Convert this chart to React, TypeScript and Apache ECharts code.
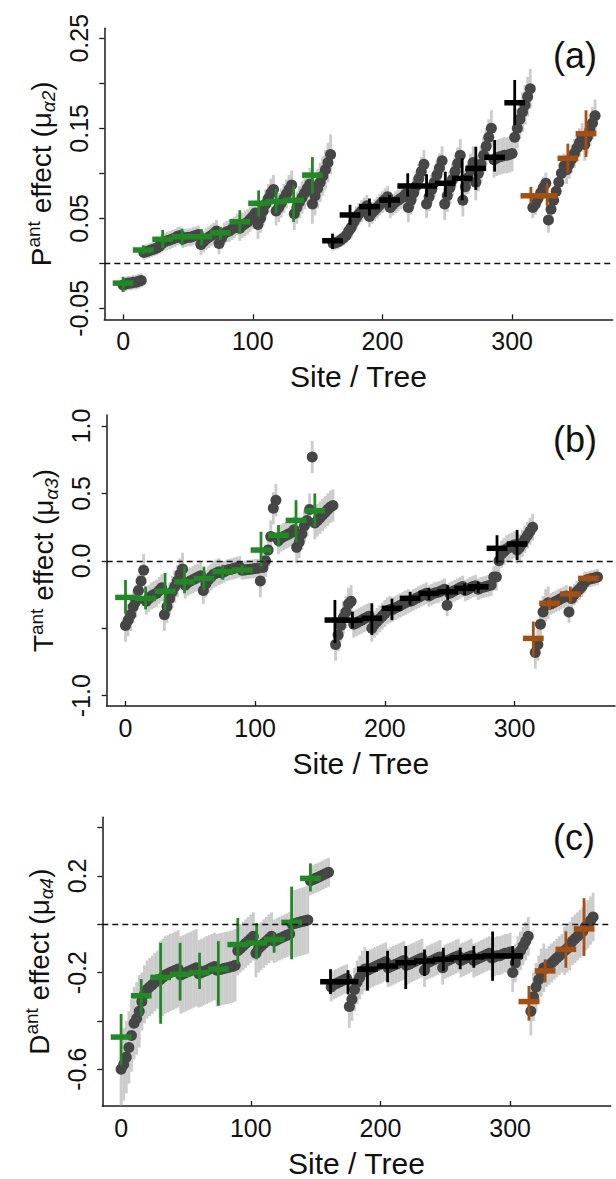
import React, { useEffect, useRef } from "react";
import * as echarts from "echarts";

// ---- shared site layout (x of each site cross, first tree index of each site) ----
const siteX = [0, 15.5, 30.5, 45.5, 60.5, 75, 90, 104.5, 118, 131.5, 146, 161.5, 175, 190, 205.5, 219.5, 234, 248.5, 261.5, 272, 286.5, 302, 314.5, 327, 343, 357];
const siteStart = [0, 16, 30, 46, 60, 74, 90, 104, 118, 132, 146, 162, 176, 190, 206, 220, 234, 248, 262, 272, 286, 302, 316, 328, 342, 356];
const siteGroup = ["g", "g", "g", "g", "g", "g", "g", "g", "g", "g", "g", "k", "k", "k", "k", "k", "k", "k", "k", "k", "k", "k", "b", "b", "b", "b"];
const groupColor: Record<string, string> = { g: "#1f8a22", k: "#000000", b: "#a5500f" };

// ---- panel (a): P^ant effect ----
const treesA = [
  [-0.024, -0.023, -0.022, -0.022, -0.021, -0.021, -0.020, -0.019],
  [0.012, 0.013, 0.014, 0.015, 0.016, 0.017, 0.019],
  [0.022, 0.024, 0.025, 0.026, 0.027, 0.028, 0.030, 0.031],
  [0.027, 0.028, 0.029, 0.029, 0.030, 0.031, 0.032],
  [0.021, 0.024, 0.027, 0.029, 0.031, 0.033, 0.036],
  [0.022, 0.028, 0.033, 0.035, 0.036, 0.038, 0.040, 0.043],
  [0.039, 0.042, 0.044, 0.046, 0.049, 0.052, 0.056],
  [0.043, 0.050, 0.058, 0.066, 0.072, 0.078, 0.082],
  [0.058, 0.062, 0.067, 0.072, 0.077, 0.082, 0.087],
  [0.055, 0.062, 0.068, 0.073, 0.078, 0.083, 0.088],
  [0.066, 0.075, 0.083, 0.090, 0.097, 0.104, 0.112, 0.121],
  [0.022, 0.023, 0.024, 0.026, 0.028, 0.031, 0.036],
  [0.040, 0.046, 0.051, 0.055, 0.058, 0.061, 0.064],
  [0.052, 0.056, 0.059, 0.062, 0.065, 0.068, 0.071, 0.074],
  [0.062, 0.065, 0.068, 0.070, 0.072, 0.074, 0.077],
  [0.062, 0.070, 0.078, 0.086, 0.094, 0.102, 0.110],
  [0.066, 0.074, 0.082, 0.090, 0.098, 0.106, 0.114],
  [0.066, 0.075, 0.084, 0.093, 0.102, 0.111, 0.120],
  [0.070, 0.085, 0.095, 0.104, 0.112],
  [0.090, 0.100, 0.110, 0.120, 0.130, 0.140, 0.150],
  [0.115, 0.117, 0.118, 0.119, 0.120, 0.120, 0.121, 0.122],
  [0.140, 0.150, 0.160, 0.168, 0.176, 0.185, 0.194],
  [0.062, 0.066, 0.072, 0.078, 0.084, 0.089],
  [0.048, 0.060, 0.070, 0.080, 0.090, 0.100, 0.108],
  [0.104, 0.110, 0.116, 0.122, 0.128, 0.134, 0.140],
  [0.132, 0.140, 0.148, 0.156, 0.164],
];
const hwA = [0.008, 0.008, 0.01, 0.01, 0.012, 0.012, 0.014, 0.016, 0.016, 0.018, 0.022, 0.008, 0.012, 0.012, 0.012, 0.016, 0.016, 0.018, 0.018, 0.02, 0.02, 0.022, 0.012, 0.014, 0.016, 0.018];
const meanA = [-0.022, 0.0148, 0.0267, 0.0296, 0.0296, 0.034, 0.0462, 0.0667, 0.0685, 0.07, 0.098, 0.0251, 0.0537, 0.063, 0.0703, 0.0859, 0.0859, 0.0889, 0.0944, 0.1055, 0.1178, 0.1784, 0.075, 0.075, 0.1167, 0.144];
const loA = [-0.032, 0.01, 0.017, 0.02, 0.02, 0.026, 0.033, 0.0515, 0.0553, 0.046, 0.0774, 0.016, 0.0426, 0.053, 0.062, 0.074, 0.074, 0.074, 0.07, 0.0815, 0.1019, 0.1537, 0.0667, 0.064, 0.1, 0.118];
const hiA = [-0.015, 0.02, 0.037, 0.0386, 0.038, 0.0405, 0.059, 0.081, 0.083, 0.0867, 0.118, 0.033, 0.065, 0.072, 0.076, 0.1, 0.099, 0.1018, 0.1167, 0.1296, 0.137, 0.2037, 0.085, 0.089, 0.133, 0.17];

// ---- panel (b): T^ant effect ----
const treesB = [
  [-0.48, -0.44, -0.40, -0.34, -0.30, -0.22, -0.15, -0.07],
  [-0.30, -0.28, -0.26, -0.25, -0.24, -0.22, -0.20],
  [-0.40, -0.34, -0.28, -0.23, -0.19, -0.15, -0.10, -0.06],
  [-0.18, -0.16, -0.15, -0.14, -0.13, -0.12, -0.11],
  [-0.22, -0.17, -0.14, -0.12, -0.10, -0.09, -0.08],
  [-0.09, -0.08, -0.07, -0.065, -0.06, -0.055, -0.05, -0.045],
  [-0.07, -0.068, -0.065, -0.062, -0.06, -0.057, -0.055],
  [-0.15, -0.05, 0.0, 0.08, 0.18, 0.39, 0.45],
  [0.15, 0.17, 0.18, 0.19, 0.20, 0.21, 0.23],
  [0.10, 0.14, 0.20, 0.26, 0.30, 0.38, 0.77],
  [0.28, 0.30, 0.32, 0.34, 0.36, 0.38, 0.40, 0.41],
  [-0.62, -0.55, -0.48, -0.42, -0.38, -0.32, -0.30],
  [-0.47, -0.46, -0.45, -0.44, -0.43, -0.42, -0.41],
  [-0.50, -0.47, -0.45, -0.43, -0.41, -0.39, -0.37, -0.36],
  [-0.36, -0.35, -0.34, -0.33, -0.32, -0.31, -0.30],
  [-0.30, -0.29, -0.28, -0.27, -0.26, -0.25, -0.24],
  [-0.26, -0.25, -0.24, -0.235, -0.23, -0.22, -0.21],
  [-0.33, -0.24, -0.23, -0.22, -0.21, -0.20, -0.19],
  [-0.22, -0.21, -0.20, -0.19, -0.185],
  [-0.21, -0.20, -0.195, -0.19, -0.185, -0.18, -0.12],
  [-0.12, 0.0, 0.05, 0.07, 0.09, 0.10, 0.11, 0.12],
  [0.08, 0.10, 0.13, 0.16, 0.19, 0.22, 0.25],
  [-0.68, -0.62, -0.47, -0.38, -0.33, -0.31],
  [-0.32, -0.31, -0.30, -0.29, -0.28, -0.27, -0.26],
  [-0.38, -0.28, -0.25, -0.23, -0.21, -0.19, -0.16],
  [-0.14, -0.135, -0.13, -0.125, -0.12],
];
const hwB = [0.12, 0.1, 0.12, 0.1, 0.1, 0.08, 0.07, 0.12, 0.1, 0.12, 0.12, 0.12, 0.1, 0.1, 0.09, 0.08, 0.08, 0.08, 0.08, 0.08, 0.1, 0.1, 0.12, 0.08, 0.08, 0.06];
const meanB = [-0.271, -0.279, -0.225, -0.156, -0.131, -0.08, -0.068, 0.08, 0.19, 0.3, 0.372, -0.439, -0.44, -0.426, -0.352, -0.278, -0.241, -0.229, -0.204, -0.192, 0.093, 0.125, -0.575, -0.315, -0.246, -0.13];
const loB = [-0.389, -0.36, -0.366, -0.24, -0.216, -0.14, -0.1, -0.043, 0.105, 0.14, 0.25, -0.61, -0.5, -0.55, -0.44, -0.33, -0.29, -0.29, -0.253, -0.24, -0.019, 0.006, -0.71, -0.365, -0.315, -0.155];
const hiB = [-0.142, -0.19, -0.09, -0.04, -0.043, -0.03, -0.03, 0.216, 0.266, 0.45, 0.5, -0.29, -0.377, -0.315, -0.28, -0.23, -0.2, -0.18, -0.167, -0.155, 0.19, 0.23, -0.45, -0.28, -0.19, -0.105];

// ---- panel (c): D^ant effect ----
const treesC = [
  [-0.60, -0.58, -0.55, -0.51, -0.46, -0.41, -0.39, -0.36],
  [-0.32, -0.29, -0.27, -0.26, -0.25, -0.24, -0.23],
  [-0.23, -0.22, -0.21, -0.205, -0.20, -0.195, -0.19, -0.185],
  [-0.21, -0.205, -0.20, -0.195, -0.19, -0.185, -0.18],
  [-0.205, -0.20, -0.195, -0.19, -0.185, -0.18, -0.175],
  [-0.19, -0.187, -0.185, -0.182, -0.18, -0.177, -0.175, -0.17],
  [-0.11, -0.10, -0.09, -0.08, -0.07, -0.06, -0.05],
  [-0.12, -0.10, -0.09, -0.08, -0.07, -0.06, -0.05],
  [-0.07, -0.065, -0.06, -0.055, -0.05, -0.045, -0.04],
  [0.0, 0.003, 0.006, 0.009, 0.012, 0.015, 0.018],
  [0.18, 0.185, 0.19, 0.195, 0.20, 0.205, 0.21, 0.215],
  [-0.26, -0.25, -0.245, -0.24, -0.235, -0.23, -0.225],
  [-0.34, -0.31, -0.27, -0.24, -0.22, -0.20, -0.185],
  [-0.19, -0.185, -0.18, -0.175, -0.17, -0.165, -0.16, -0.155],
  [-0.18, -0.175, -0.17, -0.165, -0.16, -0.155, -0.15],
  [-0.17, -0.165, -0.16, -0.155, -0.15, -0.145, -0.14],
  [-0.19, -0.16, -0.155, -0.15, -0.145, -0.14, -0.135],
  [-0.18, -0.155, -0.15, -0.145, -0.14, -0.135, -0.13],
  [-0.15, -0.145, -0.14, -0.135, -0.13],
  [-0.15, -0.145, -0.14, -0.135, -0.13, -0.125, -0.12],
  [-0.14, -0.135, -0.13, -0.13, -0.125, -0.12, -0.12, -0.115],
  [-0.20, -0.16, -0.13, -0.11, -0.09, -0.07, -0.05],
  [-0.36, -0.30, -0.26, -0.23, -0.20, -0.18],
  [-0.18, -0.17, -0.16, -0.15, -0.14, -0.13, -0.12],
  [-0.11, -0.10, -0.09, -0.07, -0.06, -0.05, -0.04],
  [-0.03, -0.01, 0.0, 0.015, 0.03],
];
const hwC = [0.15, 0.12, 0.16, 0.16, 0.14, 0.15, 0.1, 0.1, 0.09, 0.14, 0.06, 0.06, 0.09, 0.08, 0.08, 0.08, 0.07, 0.07, 0.07, 0.07, 0.08, 0.08, 0.1, 0.08, 0.1, 0.1];
const meanC = [-0.467, -0.296, -0.22, -0.207, -0.2, -0.186, -0.084, -0.077, -0.063, 0.008, 0.19, -0.238, -0.238, -0.186, -0.173, -0.159, -0.152, -0.145, -0.138, -0.135, -0.131, -0.131, -0.32, -0.193, -0.104, -0.019];
const loC = [-0.584, -0.378, -0.412, -0.316, -0.268, -0.337, -0.166, -0.145, -0.118, -0.145, 0.136, -0.289, -0.29, -0.275, -0.24, -0.268, -0.214, -0.193, -0.186, -0.18, -0.234, -0.17, -0.399, -0.241, -0.18, -0.131];
const hiC = [-0.371, -0.227, -0.077, -0.077, -0.118, -0.07, 0.026, 0.005, -0.036, 0.156, 0.252, -0.186, -0.19, -0.111, -0.11, -0.09, -0.104, -0.097, -0.097, -0.09, -0.03, -0.09, -0.255, -0.145, -0.029, 0.108];

// ---- axes ----
const xTicks = [0, 100, 200, 300];
const yTicksA = [-0.05, 0, 0.05, 0.1, 0.15, 0.2, 0.25];
const yLabelsA = [-0.05, 0.05, 0.15, 0.25];
const yTicksB = [-1, -0.5, 0, 0.5, 1];
const yLabelsB = [-1, 0, 0.5, 1];
const yTicksC = [-0.6, -0.4, -0.2, 0, 0.2, 0.4];
const yLabelsC = [-0.6, -0.2, 0.2];
const panelLetters = ["(a)", "(b)", "(c)"];
const titleLetters = ["P", "T", "D"];
const titleSubs = ["α2", "α3", "α4"];

const FONT = "'Liberation Sans', Arial, Helvetica, sans-serif";
const AXIS_COLOR = "#1a1a1a";

const panels = [
  { trees: treesA, hw: hwA, mean: meanA, lo: loA, hi: hiA, min: -0.0622, max: 0.2611, ticks: yTicksA, labels: yLabelsA, dec: 2, grid: { left: 104.3, top: 28.3, width: 508.3, height: 291 }, letterY: 57 },
  { trees: treesB, hw: hwB, mean: meanB, lo: loB, hi: hiB, min: -1.0764, max: 1.0816, ticks: yTicksB, labels: yLabelsB, dec: 1, grid: { left: 106.7, top: 415, width: 508.3, height: 291 }, letterY: 441 },
  { trees: treesC, hw: hwC, mean: meanC, lo: loC, hi: hiC, min: -0.7523, max: 0.4428, ticks: yTicksC, labels: yLabelsC, dec: 1, grid: { left: 102.3, top: 817.3, width: 508.3, height: 290.4 }, letterY: 839 },
];

function buildOption() {
  const grid: any[] = [];
  const xAxis: any[] = [];
  const yAxis: any[] = [];
  const series: any[] = [];
  const graphic: any[] = [];

  panels.forEach((p, idx) => {
    grid.push({ ...p.grid, containLabel: false });
    xAxis.push({
      type: "value",
      gridIndex: idx,
      min: -14.5,
      max: 377.5,
      axisLine: { show: true, onZero: false, lineStyle: { color: AXIS_COLOR, width: 1.5 } },
      axisTick: { show: true, inside: true, length: 5, customValues: xTicks, lineStyle: { color: AXIS_COLOR, width: 1.3 } },
      axisLabel: { show: true, customValues: xTicks, fontSize: 25, color: "#111", margin: 9, fontFamily: FONT },
      splitLine: { show: false },
      name: "Site / Tree",
      nameLocation: "middle",
      nameGap: 42,
      nameTextStyle: { fontSize: 30, color: "#111", fontFamily: FONT },
    });
    const dec = p.dec;
    yAxis.push({
      type: "value",
      gridIndex: idx,
      min: p.min,
      max: p.max,
      axisLine: { show: true, onZero: false, lineStyle: { color: AXIS_COLOR, width: 1.5 } },
      axisTick: { show: true, inside: false, length: 5, customValues: p.ticks, lineStyle: { color: AXIS_COLOR, width: 1.3 } },
      axisLabel: {
        show: true,
        customValues: p.labels,
        rotate: 90,
        fontSize: 25,
        color: "#111",
        margin: 13,
        fontFamily: FONT,
        formatter: (v: number) => v.toFixed(dec),
      },
      splitLine: { show: false },
      name: `{p|${titleLetters[idx]}}{sup|ant}{m| effect (μ}{sub|${titleSubs[idx]}}{m|)}`,
      nameLocation: "middle",
      nameRotate: 90,
      nameGap: 46,
      nameTextStyle: {
        fontFamily: FONT,
        color: "#111",
        rich: {
          p: { fontSize: 28, lineHeight: 34, fontFamily: FONT, color: "#111" },
          m: { fontSize: 28, lineHeight: 34, fontFamily: FONT, color: "#111" },
          sup: { fontSize: 19, lineHeight: 19, verticalAlign: "top", fontFamily: FONT, color: "#111" },
          sub: { fontSize: 19, lineHeight: 19, verticalAlign: "bottom", fontStyle: "italic", fontFamily: FONT, color: "#111" },
        },
      },
    });

    const pts: number[][] = [];
    const ci: number[][] = [];
    p.trees.forEach((arr, k) => {
      arr.forEach((v, i) => {
        const x = siteStart[k] + 2 * i;
        pts.push([x, v]);
        ci.push([x, v, p.hw[k]]);
      });
    });
    const crosses = siteX.map((x, k) => [x, p.mean[k], p.lo[k], p.hi[k], k]);

    series.push({
      type: "custom",
      xAxisIndex: idx,
      yAxisIndex: idx,
      z: 1,
      silent: true,
      clip: true,
      data: ci,
      encode: { x: 0, y: 1 },
      renderItem: (_params: any, api: any) => {
        const x = api.value(0);
        const v = api.value(1);
        const h = api.value(2);
        const a = api.coord([x - 1.1, v + h]);
        const b = api.coord([x + 1.1, v - h]);
        return {
          type: "rect",
          shape: { x: a[0], y: a[1], width: b[0] - a[0], height: b[1] - a[1] },
          style: { fill: "#cccccc" },
        };
      },
    });
    series.push({
      type: "scatter",
      xAxisIndex: idx,
      yAxisIndex: idx,
      z: 2,
      silent: true,
      symbol: "circle",
      symbolSize: 11,
      itemStyle: { color: "#464646", opacity: 1 },
      data: pts,
      markLine: {
        silent: true,
        symbol: "none",
        label: { show: false },
        lineStyle: { color: "#111", type: [6, 4], width: 1.4 },
        data: [{ yAxis: 0 }],
      },
    });
    series.push({
      type: "custom",
      xAxisIndex: idx,
      yAxisIndex: idx,
      z: 3,
      silent: true,
      data: crosses,
      encode: { x: 0, y: 1 },
      renderItem: (_params: any, api: any) => {
        const x = api.value(0);
        const m = api.value(1);
        const lo = api.value(2);
        const hi = api.value(3);
        const k = api.value(4);
        const col = groupColor[siteGroup[k]];
        const l = api.coord([x - 8, m]);
        const r = api.coord([x + 8, m]);
        const pl = api.coord([x, lo]);
        const ph = api.coord([x, hi]);
        return {
          type: "group",
          children: [
            { type: "line", shape: { x1: pl[0], y1: pl[1], x2: ph[0], y2: ph[1] }, style: { stroke: col, lineWidth: 2.8 } },
            { type: "line", shape: { x1: l[0], y1: l[1], x2: r[0], y2: r[1] }, style: { stroke: col, lineWidth: 5.5 } },
          ],
        };
      },
    });

    graphic.push({
      type: "text",
      left: 577 - 24,
      top: p.letterY - 20,
      style: { text: panelLetters[idx], fontSize: 36, fontFamily: FONT, fill: "#111" },
    });
  });

  return {
    animation: false,
    backgroundColor: "#ffffff",
    textStyle: { fontFamily: FONT },
    grid,
    xAxis,
    yAxis,
    series,
    graphic,
  };
}

export default function App() {
  const ref = useRef<HTMLDivElement>(null);
  useEffect(() => {
    if (!ref.current) return;
    const chart = echarts.init(ref.current, undefined, { renderer: "svg" });
    chart.setOption(buildOption() as any);
    return () => chart.dispose();
  }, []);
  return (
    <div
      ref={ref}
      style={{ position: "absolute", left: 0, top: 0, width: 616, height: 1179, background: "#fff" }}
    />
  );
}
